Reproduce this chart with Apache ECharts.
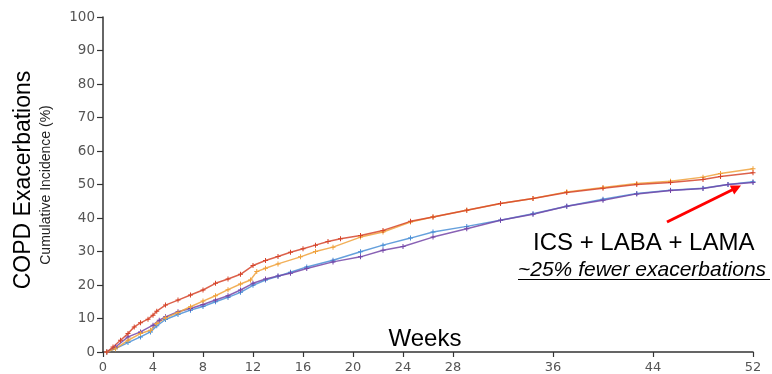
<!DOCTYPE html>
<html>
<head>
<meta charset="utf-8">
<script src="https://cdn.jsdelivr.net/npm/echarts@6/dist/echarts.min.js"></script>
<style>html,body{margin:0;padding:0;background:#fff;}#c{width:772px;height:374px;}</style>
</head>
<body>
<div id="c"></div>
<script>
// Weeks / cumulative incidence (%)
const redData = [[0.3,0],[0.8,1.5],[1.4,3.5],[2,5.5],[2.5,7.5],[3,8.7],[3.6,9.8],[4,11],[4.3,12.2],[5,14],[6,15.5],[7,17],[8,18.5],[9,20.5],[10,21.8],[11,23.2],[12,25.8],[13,27.3],[14,28.5],[15,29.8],[16,30.8],[17,31.9],[18,33],[19,33.8],[20.6,34.8],[22.4,36.3],[24.6,39],[26.4,40.3],[29.1,42.3],[31.8,44.3],[34.4,45.8],[37.1,47.6],[40,48.9],[42.7,50],[45.4,50.6],[48,51.5],[49.4,52.4],[52,53.5]];
const orangeData = [[0.3,0],[1,1],[2,3.5],[3,5.5],[3.8,6.5],[4.3,8.5],[5,10.2],[6,11.8],[7,13.5],[8,15.2],[9,16.8],[10,18.6],[11,20.3],[11.8,21.5],[12.3,24],[13,25],[14,26.3],[15.8,28.4],[17,30],[18.4,31.3],[20.6,34.3],[22.4,35.8],[24.6,38.8],[26.4,40.3],[29.1,42.3],[31.8,44.3],[34.4,45.8],[37.1,47.8],[40,49.1],[42.7,50.3],[45.4,51],[48,52.2],[49.4,53.3],[52,54.7]];
const purpleData = [[0.3,0],[1,1.5],[2,4.5],[3,6],[4,8],[4.5,9.5],[5,10.5],[6,12],[7,13],[8,14.2],[9,15.5],[10,16.8],[11,18.5],[12,20.5],[13,21.8],[14,22.7],[15,23.5],[16.3,24.9],[18.4,26.9],[20.6,28.4],[22.4,30.4],[24,31.5],[26.4,34.3],[29.1,36.8],[31.8,39.3],[34.4,41.1],[37.1,43.5],[40,45.3],[42.7,47.2],[45.4,48.2],[48,48.8],[50,50],[52,50.6]];
const blueData = [[0.3,0],[1,1],[2,2.8],[3,4.5],[3.8,6],[4.3,7.8],[5,9.7],[6,11.2],[7,12.5],[8,13.6],[9,15],[10,16.3],[11,17.8],[12,19.9],[13,21.5],[14,22.6],[15,23.8],[16.3,25.4],[18.4,27.4],[20.6,29.9],[22.4,31.9],[24.6,34],[26.4,35.8],[29.1,37.5],[31.8,39.3],[34.4,41.3],[37.1,43.5],[40,45.6],[42.7,47.3],[45.4,48.3],[48,48.9],[50,50],[52,50.8]];
const xTickValues = [0,4,8,12,16,20,24,28,36,44,52];
const yTickValues = [0,10,20,30,40,50,60,70,80,90,100];

const plus = 'path://M2,0H3V2H5V3H3V5H2V3H0V2H2Z';
function mk(name, data, color) {
  return {
    name, type: 'line', data, smooth: false,
    symbol: plus, symbolSize: 5, showSymbol: true,
    lineStyle: { color, width: 1.5, opacity: 0.85 },
    itemStyle: { color },
    animation: false
  };
}
const chart = echarts.init(document.getElementById('c'), null, { renderer: 'canvas' });
chart.setOption({
  animation: false,
  grid: { left: 103, right: 19, top: 17, bottom: 22, containLabel: false },
  xAxis: {
    type: 'value', min: 0, max: 52, interval: 4,
    axisLine: { show: true, lineStyle: { color: '#333', width: 1.5 } },
    axisTick: { show: true, length: 5, customValues: xTickValues, lineStyle: { color: '#333', width: 1.2 } },
    axisLabel: { customValues: xTickValues, color: '#555', fontFamily: 'DejaVu Sans', fontSize: 13, margin: 9 },
    splitLine: { show: false }
  },
  yAxis: {
    type: 'value', min: 0, max: 100, interval: 10,
    axisLine: { show: true, lineStyle: { color: '#333', width: 1.5 } },
    axisTick: { show: true, length: 6, lineStyle: { color: '#333', width: 1.2 } },
    axisLabel: { customValues: yTickValues, color: '#555', fontFamily: 'DejaVu Sans', fontSize: 13.5, margin: 8 },
    splitLine: { show: false }
  },
  series: [
    mk('blue', blueData, '#4a8fd6'),
    mk('purple', purpleData, '#7446a8'),
    mk('orange', orangeData, '#f0a23c'),
    mk('red', redData, '#d6452b')
  ],
  graphic: [
    { type: 'text', x: 24, y: 180, rotation: Math.PI / 2, style: { text: 'COPD Exacerbations', font: '23px "Liberation Sans"', fill: '#000', align: 'center', verticalAlign: 'middle' } },
    { type: 'text', x: 46, y: 185, rotation: Math.PI / 2, style: { text: 'Cumulative Incidence (%)', font: '14px "Liberation Sans"', fill: '#222', align: 'center', verticalAlign: 'middle' } },
    { type: 'text', x: 425, y: 339.5, style: { text: 'Weeks', font: '24px "Liberation Sans"', fill: '#000', align: 'center', verticalAlign: 'middle' } },
    { type: 'text', x: 533, y: 243.5, style: { text: 'ICS + LABA + LAMA', font: '24px "Liberation Sans"', fill: '#000', align: 'left', verticalAlign: 'middle' } },
    { type: 'text', x: 518, y: 270.5, style: { text: '~25% fewer exacerbations', font: 'italic 21px "Liberation Sans"', fill: '#000', align: 'left', verticalAlign: 'middle' } },
    { type: 'line', shape: { x1: 518, y1: 279.5, x2: 770, y2: 279.5 }, style: { stroke: '#000', lineWidth: 1.2 } },
    { type: 'line', shape: { x1: 667, y1: 222, x2: 733, y2: 189.5 }, style: { stroke: '#ff0000', lineWidth: 3 } },
    { type: 'polygon', shape: { points: [[741, 185.5], [734.2, 194.5], [729.8, 185.5]] }, style: { fill: '#ff0000' } }
  ]
});
</script>
</body>
</html>
